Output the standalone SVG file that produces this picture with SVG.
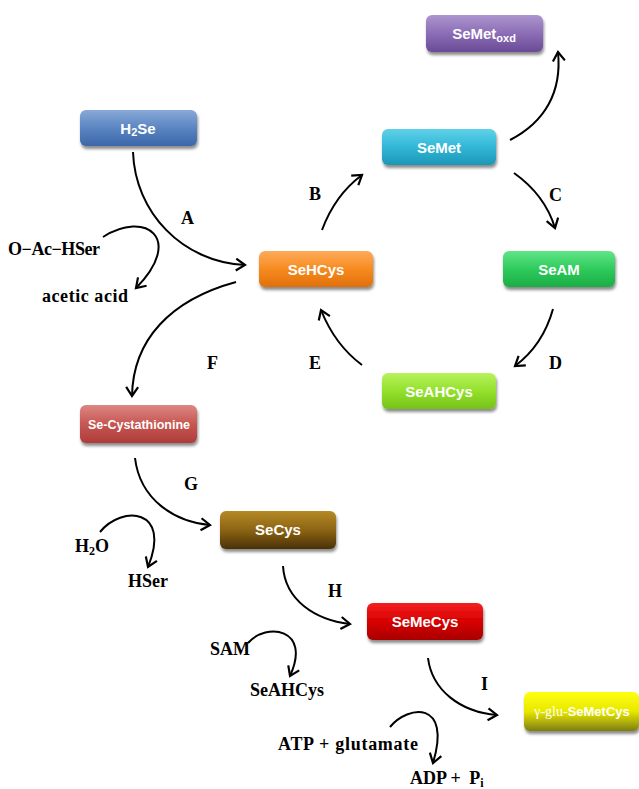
<svg xmlns="http://www.w3.org/2000/svg" width="639" height="789" viewBox="0 0 639 789">
<style>
.lbl{font-family:"Liberation Serif","Times New Roman",serif;font-weight:bold;font-size:18px;fill:#000}
.let{font-family:"Liberation Serif","Times New Roman",serif;font-weight:bold;font-size:18px;fill:#000}
.nt{font-family:"Liberation Sans",Arial,sans-serif;font-weight:bold;font-size:15px;fill:#fff;text-anchor:middle}
.box{filter:url(#sh)}
.conn path{fill:none;stroke:#000;stroke-width:2;marker-end:url(#ah)}
</style>
<defs>
<filter id="sh" x="-10%" y="-20%" width="120%" height="160%">
<feDropShadow dx="1" dy="3" stdDeviation="1.5" flood-color="#000" flood-opacity="0.45"/>
</filter>
<marker id="ah" markerUnits="userSpaceOnUse" markerWidth="14" markerHeight="14" refX="11" refY="7" orient="auto" viewBox="0 0 14 14">
<path d="M2,1 L11,7 L2,13" fill="none" stroke="#000" stroke-width="2.2"/>
</marker>
<linearGradient id="gOxd" x1="0" y1="0" x2="0" y2="1"><stop offset="0" stop-color="#ad95cf"/><stop offset="0.5" stop-color="#8b6db5"/><stop offset="1" stop-color="#6a4a95"/></linearGradient>
<linearGradient id="gH2" x1="0" y1="0" x2="0" y2="1"><stop offset="0" stop-color="#88a9d8"/><stop offset="0.5" stop-color="#5b85c2"/><stop offset="1" stop-color="#3b67a8"/></linearGradient>
<linearGradient id="gMet" x1="0" y1="0" x2="0" y2="1"><stop offset="0" stop-color="#5fd1ea"/><stop offset="0.5" stop-color="#32b7d6"/><stop offset="1" stop-color="#1c97b8"/></linearGradient>
<linearGradient id="gHC" x1="0" y1="0" x2="0" y2="1"><stop offset="0" stop-color="#fdab5a"/><stop offset="0.5" stop-color="#f78b20"/><stop offset="1" stop-color="#e0700a"/></linearGradient>
<linearGradient id="gAM" x1="0" y1="0" x2="0" y2="1"><stop offset="0" stop-color="#62e488"/><stop offset="0.5" stop-color="#2fcb5c"/><stop offset="1" stop-color="#1aad45"/></linearGradient>
<linearGradient id="gAH" x1="0" y1="0" x2="0" y2="1"><stop offset="0" stop-color="#b8f25e"/><stop offset="0.5" stop-color="#93e12c"/><stop offset="1" stop-color="#76c218"/></linearGradient>
<linearGradient id="gCy" x1="0" y1="0" x2="0" y2="1"><stop offset="0" stop-color="#dc8683"/><stop offset="0.5" stop-color="#c75752"/><stop offset="1" stop-color="#ad3c39"/></linearGradient>
<linearGradient id="gSC" x1="0" y1="0" x2="0" y2="1"><stop offset="0" stop-color="#b58a26"/><stop offset="0.5" stop-color="#8c6414"/><stop offset="1" stop-color="#4a3105"/></linearGradient>
<linearGradient id="gMC" x1="0" y1="0" x2="0" y2="1"><stop offset="0" stop-color="#f42020"/><stop offset="0.5" stop-color="#d80000"/><stop offset="1" stop-color="#a80000"/></linearGradient>
<linearGradient id="gGl" x1="0" y1="0" x2="0" y2="1"><stop offset="0" stop-color="#ffff10"/><stop offset="0.5" stop-color="#e8e800"/><stop offset="1" stop-color="#7d7d12"/></linearGradient>
</defs>
<rect width="639" height="789" fill="#fff"/>

<g class="conn" id="connectors">
<path d="M133,152 C135,212 182,262 245,265"/>
<path d="M103,237 C145,210 185,238 136,288"/>
<path d="M322,230 Q335,195 362,175"/>
<path d="M510,140 C545,122 562,92 558,52"/>
<path d="M514,173 Q545,195 555,228"/>
<path d="M553,309 Q543,345 515,366"/>
<path d="M362,365 Q335,345 321,310"/>
<path d="M236,282 C170,300 133,340 132,396"/>
<path d="M135,458 C140,500 175,522 210,525"/>
<path d="M100,532 C122,505 172,508 148,567"/>
<path d="M283,566 C285,600 315,620 350,624"/>
<path d="M248,643 C266,622 312,628 290,676"/>
<path d="M428,658 C432,690 460,712 497,715"/>
<path d="M390,727 C408,705 452,700 433,763"/>
</g>

<g id="node-SeMetoxd"><rect class="box" x="426" y="15" width="117" height="37" rx="6" fill="url(#gOxd)"/><text class="nt" x="484" y="39">SeMet<tspan font-size="11" dy="3">oxd</tspan></text></g>
<g id="node-H2Se"><rect class="box" x="80" y="110" width="117" height="36" rx="6" fill="url(#gH2)"/><text class="nt" x="138" y="134">H<tspan font-size="11" dy="2">2</tspan><tspan dy="-2">Se</tspan></text></g>
<g id="node-SeMet"><rect class="box" x="382" y="129" width="114" height="36" rx="6" fill="url(#gMet)"/><text class="nt" x="439" y="153">SeMet</text></g>
<g id="node-SeHCys"><rect class="box" x="259" y="251" width="114" height="36" rx="6" fill="url(#gHC)"/><text class="nt" x="316" y="275">SeHCys</text></g>
<g id="node-SeAM"><rect class="box" x="503" y="251" width="112" height="36" rx="6" fill="url(#gAM)"/><text class="nt" x="559" y="275">SeAM</text></g>
<g id="node-SeAHCys"><rect class="box" x="382" y="373" width="114" height="36" rx="6" fill="url(#gAH)"/><text class="nt" x="439" y="397">SeAHCys</text></g>
<g id="node-SeCystathionine"><rect class="box" x="80" y="405" width="117" height="38" rx="6" fill="url(#gCy)"/><text class="nt" x="139" y="429" style="font-size:13.5px" textLength="102" lengthAdjust="spacingAndGlyphs">Se-Cystathionine</text></g>
<g id="node-SeCys"><rect class="box" x="220" y="511" width="116" height="38" rx="6" fill="url(#gSC)"/><text class="nt" x="278" y="535">SeCys</text></g>
<g id="node-SeMeCys"><rect class="box" x="367" y="603" width="116" height="37" rx="6" fill="url(#gMC)"/><text class="nt" x="425" y="627">SeMeCys</text></g>
<g id="node-gluSeMetCys"><rect class="box" x="524" y="692" width="115" height="39" rx="6" fill="url(#gGl)"/><text class="nt" x="582" y="716" style="font-size:13px"><tspan font-family="Liberation Serif, serif" font-weight="normal" font-size="14">γ-glu-</tspan>SeMetCys</text></g>

<g id="labels">
<text class="lbl" x="8" y="255" textLength="92">O−Ac−HSer</text>
<text class="lbl" x="42" y="302" textLength="86">acetic acid</text>
<text class="lbl" x="75" y="552">H<tspan font-size="12" dy="3">2</tspan><tspan dy="-3">O</tspan></text>
<text class="lbl" x="128" y="587">HSer</text>
<text class="lbl" x="210" y="655">SAM</text>
<text class="lbl" x="250" y="696" textLength="74">SeAHCys</text>
<text class="lbl" x="278" y="750" textLength="140">ATP + glutamate</text>
<text class="lbl" x="410" y="784">ADP + <tspan dx="4">P</tspan><tspan font-size="12" dy="3">i</tspan></text>
<text class="let" x="181" y="224">A</text>
<text class="let" x="309" y="200">B</text>
<text class="let" x="549" y="201">C</text>
<text class="let" x="549" y="369">D</text>
<text class="let" x="309" y="369">E</text>
<text class="let" x="207" y="369">F</text>
<text class="let" x="184" y="490">G</text>
<text class="let" x="328" y="597">H</text>
<text class="let" x="481" y="690">I</text>
</g>
</svg>
